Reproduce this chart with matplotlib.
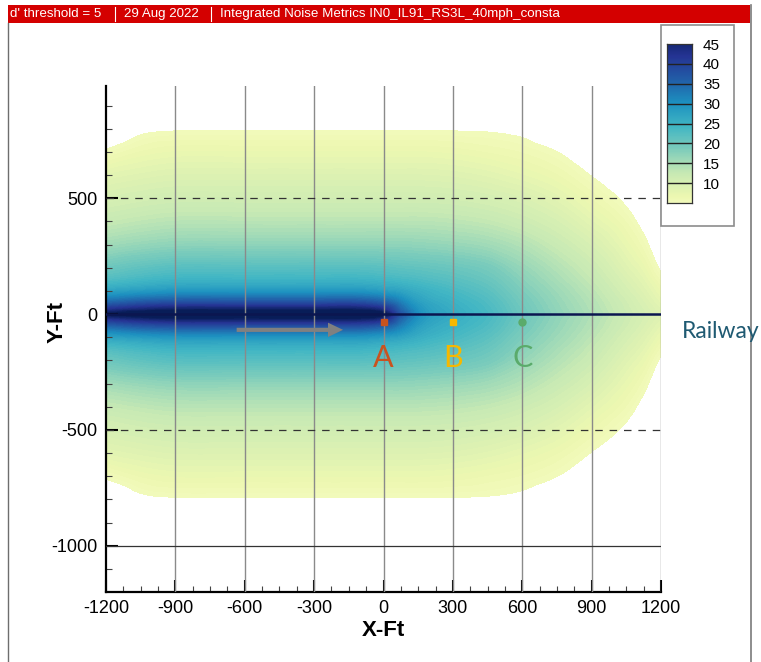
import numpy as np
import matplotlib
matplotlib.use("Agg")
import matplotlib.pyplot as plt
import matplotlib.tri as mtri
from matplotlib.colors import Normalize
from matplotlib.patches import Rectangle
from matplotlib.lines import Line2D

plt.rcParams["axes.unicode_minus"] = False

W, H = 761, 662

# header strip
header_parts = ["d' threshold = 5", "29 Aug 2022",
                "Integrated Noise Metrics IN0_IL91_RS3L_40mph_consta"]

# d' noise metric on a coarse grid: one row per along-track station (grid_x),
# values at off-track distances grid_y (mirrored for the other side of the track)
grid_x = [-1200, -1050, -900, -600, -300, -100, 0, 75, 150, 300, 450, 600, 750, 900, 1050, 1125, 1200]
grid_y = [0, 20, 50, 100, 150, 200, 300, 400, 500, 600, 700, 790, 900]
noise_rows = [
    [47.0, 42.0, 35.0, 27.0, 22.5, 20.0, 15.5, 12.3, 10.0, 8.0, 5.3, 3.0, 1.0],   # -1200
    [50.0, 44.5, 37.0, 28.2, 23.7, 21.2, 16.4, 13.0, 10.6, 8.6, 6.5, 4.6, 1.5],   # -1050
    [52.0, 46.0, 38.0, 29.0, 24.5, 22.0, 17.0, 13.5, 11.0, 9.0, 7.0, 5.0, 2.0],   # -900
    [52.0, 46.0, 38.0, 29.0, 24.5, 22.0, 17.0, 13.5, 11.0, 9.0, 7.0, 5.0, 2.0],   # -600
    [52.0, 46.0, 38.0, 29.0, 24.5, 22.0, 17.0, 13.5, 11.0, 9.0, 7.0, 5.0, 2.0],   # -300
    [52.0, 46.0, 38.0, 29.0, 24.5, 22.0, 17.0, 13.5, 11.0, 9.0, 7.0, 5.0, 2.0],   # -100
    [48.0, 43.0, 36.0, 28.0, 24.0, 21.7, 17.0, 13.5, 11.0, 9.0, 7.0, 5.0, 2.0],   # 0
    [37.0, 35.0, 32.0, 27.0, 23.5, 21.3, 17.0, 13.5, 11.0, 9.0, 7.0, 5.0, 2.0],   # 75
    [30.0, 29.5, 28.0, 25.5, 23.0, 21.0, 16.8, 13.5, 11.0, 9.0, 7.0, 5.0, 2.0],   # 150
    [26.0, 25.7, 25.0, 23.5, 21.8, 20.2, 16.3, 13.2, 10.8, 8.8, 6.8, 5.0, 2.0],   # 300
    [23.5, 23.3, 22.8, 21.6, 20.3, 19.0, 15.5, 12.6, 10.3, 8.3, 6.4, 4.9, 2.0],   # 450
    [20.0, 19.8, 19.4, 18.5, 17.5, 16.4, 14.0, 11.5, 9.5, 7.5, 5.9, 4.5, 2.0],    # 600
    [17.0, 16.8, 16.5, 15.8, 14.9, 14.0, 12.0, 10.0, 8.2, 6.5, 5.0, 3.5, 1.5],    # 750
    [14.4, 14.2, 13.9, 13.2, 12.4, 11.6, 9.8, 8.0, 6.4, 4.9, 3.5, 2.0, 1.0],      # 900
    [11.5, 11.3, 11.0, 10.2, 9.4, 8.6, 7.2, 5.9, 4.5, 3.3, 2.3, 1.5, 1.0],        # 1050
    [10.1, 9.9, 9.5, 8.7, 7.9, 7.1, 5.6, 4.2, 3.0, 2.2, 1.6, 1.2, 0.8],           # 1125
    [8.7, 8.4, 7.8, 6.8, 5.7, 4.6, 3.0, 2.0, 1.5, 1.0, 1.0, 1.0, 0.5],            # 1200
]
threshold = 5
cbar_levels = [5, 10, 15, 20, 25, 30, 35, 40, 45]

railway_x = [-1200, 1200]
train_arrow = (-635, -68, -175, -68)   # x0, y0, x1, y1

receivers = ["A", "B", "C"]
receiver_x = [0, 300, 600]
receiver_y = [-35, -35, -35]
receiver_markers = ["s", "s", "o"]
receiver_colors = ["#c9531f", "#f6b800", "#5aab6b"]
label_y = -190


def fx(px):
    return px / W


def fy(py):
    return 1 - py / H


fig = plt.figure(figsize=(W / 100, H / 100), dpi=100)
cmap = plt.get_cmap("YlGnBu")
norm = Normalize(vmin=0.6, vmax=48)

ax = fig.add_axes([fx(106), fy(592), (661 - 106) / W, (592 - 86) / H])

# full field, mirror the off-track profile onto negative y
gy = np.array(grid_y, dtype=float)
Y_full = np.concatenate([-gy[::-1][:-1], gy])
Z = np.array(noise_rows).T
Z_full = np.vstack([Z[::-1][:-1], Z])
XX, YY = np.meshgrid(grid_x, Y_full)
tri = mtri.Triangulation(XX.ravel(), YY.ravel())
refiner = mtri.UniformTriRefiner(tri)
interp = mtri.CubicTriInterpolator(tri, Z_full.ravel(), kind="geom")
tri_f, z_f = refiner.refine_field(Z_full.ravel(), triinterpolator=interp, subdiv=3)
cs = ax.tricontourf(tri_f, z_f, levels=np.linspace(threshold, 60, 111),
                    cmap=cmap, norm=norm, zorder=1)
cs.set_edgecolor("face")
cs.set_linewidth(0.4)

# grid
for gx in range(-900, 1201, 300):
    ax.axvline(gx, color="#8a8a8a", lw=1.0, zorder=3)
ax.axhline(500, color="#333333", lw=0.9, dashes=(6, 5.5), zorder=3)
ax.axhline(-500, color="#333333", lw=0.9, dashes=(6, 5.5), zorder=3)
ax.axhline(-1000, color="#333333", lw=0.9, zorder=3)

# railway and direction of travel
ax.plot(railway_x, [0, 0], color="#0b1650", lw=1.8, zorder=4)
x0, y0, x1, y1 = train_arrow
ax.arrow(x0, y0, x1 - x0, y1 - y0, width=18, head_width=62, head_length=65,
         length_includes_head=True, color="#808080", lw=0, zorder=5)

for name, rx, ry, m, c in zip(receivers, receiver_x, receiver_y, receiver_markers, receiver_colors):
    ax.plot(rx, ry, marker=m, ms=5, color=c, mec=c, zorder=6)
    ax.text(rx, label_y, name, color=c, fontsize=22, family="Lato",
            ha="center", va="center", zorder=6)

ax.set_xlim(-1200, 1200)
ax.set_ylim(-1200, 985)
ax.set_xticks(range(-1200, 1201, 300))
ax.set_xticks(range(-1200, 1201, 75), minor=True)
ax.set_yticks([-1000, -500, 0, 500])
ax.set_yticks(range(-1100, 901, 100), minor=True)
for s in ["top", "right"]:
    ax.spines[s].set_visible(False)
for s in ["left", "bottom"]:
    ax.spines[s].set_linewidth(1.6)
ax.tick_params(which="major", direction="in", length=8.5, width=1.5,
               labelsize=13, pad=6)
ax.tick_params(which="minor", direction="in", length=4.5, width=0.8, color="#444444")
for lab in ax.get_xticklabels() + ax.get_yticklabels():
    lab.set_family("Liberation Sans")
ax.set_xlabel("X-Ft", fontsize=16, fontweight="bold", family="Liberation Sans")
ax.set_ylabel("Y-Ft", fontsize=16, fontweight="bold", family="Liberation Sans")
ax.xaxis.set_label_coords(0.5, -0.056)
ax.yaxis.set_label_coords(-0.070, 0.534)

# legend box with the contour scale
fig.add_artist(Rectangle((fx(661), fy(226)), (734 - 661) / W, (226 - 25) / H,
                         transform=fig.transFigure, facecolor="none",
                         edgecolor="#8c8c8c", lw=1.2, zorder=2))
cax = fig.add_axes([fx(667), fy(203), 25 / W, 159 / H])
grad = np.linspace(cbar_levels[0], cbar_levels[-1], 256).reshape(-1, 1)
cax.imshow(grad, extent=[0, 1, cbar_levels[0], cbar_levels[-1]], origin="lower",
           aspect="auto", cmap=cmap, norm=norm)
for lv in cbar_levels[1:-1]:
    cax.axhline(lv, color="#222222", lw=1.0)
cax.set_xticks([])
cax.yaxis.tick_right()
cax.set_yticks(cbar_levels[1:])
cax.set_yticklabels([str(v) for v in cbar_levels[1:]], family="Liberation Sans", fontsize=11)
cax.tick_params(axis="y", length=0, pad=8)
for s in cax.spines.values():
    s.set_color("#333333")
    s.set_linewidth(0.9)

# header strip and page frame
fig.add_artist(Rectangle((fx(8), fy(23)), (750 - 8) / W, 18 / H,
                         transform=fig.transFigure, facecolor="#d40000",
                         edgecolor="none", zorder=3))
header_x = [10, 124, 220]
for txt, hx in zip(header_parts, header_x):
    fig.text(fx(hx), fy(14), txt, color="white", fontsize=9.6,
             family="Liberation Sans", va="center", ha="left", zorder=4)
for sx in [115, 211]:
    fig.add_artist(Line2D([fx(sx), fx(sx)], [fy(7), fy(21)], color="white",
                          lw=0.8, transform=fig.transFigure, zorder=4))
fig.add_artist(Line2D([fx(8), fx(8)], [fy(23), 0], color="#6e6e6e", lw=1.0,
                      transform=fig.transFigure, zorder=3))
fig.add_artist(Line2D([fx(750.5), fx(750.5)], [fy(5), 0], color="#7a7a7a", lw=1.2,
                      transform=fig.transFigure, zorder=3))

fig.text(fx(682), fy(331), "Railway", color="#1f5a72", fontsize=16.5,
         family="Lato", va="center", ha="left", zorder=5)

fig.savefig("out.png", dpi=100)
